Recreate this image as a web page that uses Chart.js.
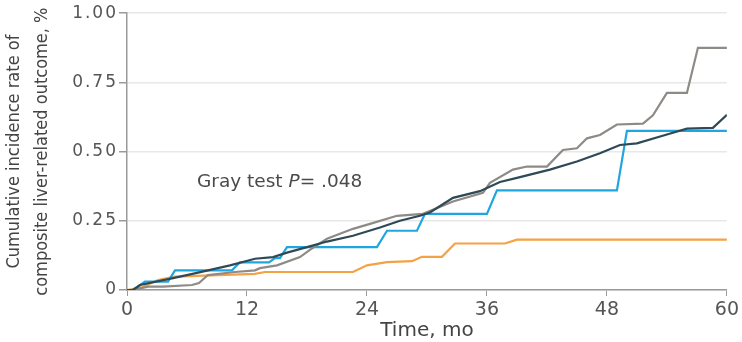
<!DOCTYPE html>
<html>
<head>
<meta charset="utf-8">
<script src="https://cdn.jsdelivr.net/npm/chart.js@4.4.1/dist/chart.umd.min.js"></script>
<style>
  html, body { margin: 0; padding: 0; background: #ffffff; }
  #wrap { width: 742px; height: 342px; }
</style>
</head>
<body>
<div id="wrap"><canvas id="c" width="742" height="342"></canvas></div>
<script>
// Cumulative incidence curves (months, rate)
const grayMonths = [0, 0.6, 2.1, 3.6, 6.5, 7.2, 8.1, 10.8, 12.8, 13.3, 15, 17.3, 18.5, 20, 22.6, 24.3, 27, 29.6, 32.6, 35.6, 36.3, 38.6, 40, 42, 43.6, 45, 46, 47.3, 49, 51.6, 52.6, 54, 56, 57.1, 60];
const grayRates  = [0, 0, 0.012, 0.012, 0.018, 0.025, 0.054, 0.065, 0.071, 0.079, 0.089, 0.119, 0.15, 0.185, 0.221, 0.239, 0.268, 0.275, 0.32, 0.351, 0.387, 0.435, 0.446, 0.446, 0.506, 0.512, 0.548, 0.56, 0.598, 0.601, 0.631, 0.712, 0.712, 0.875, 0.875];

const darkMonths = [0, 0.6, 1.3, 4.6, 7, 10.3, 12.8, 14.6, 16, 18, 20, 22.6, 25.3, 27.3, 29.3, 30.3, 32.6, 35.3, 37.3, 39, 42.3, 45, 47.3, 49.3, 51, 54, 56, 58.6, 60];
const darkRates  = [0, 0, 0.018, 0.043, 0.062, 0.089, 0.113, 0.119, 0.135, 0.155, 0.175, 0.196, 0.226, 0.25, 0.268, 0.28, 0.333, 0.357, 0.39, 0.405, 0.435, 0.464, 0.494, 0.524, 0.53, 0.562, 0.583, 0.586, 0.633];

const blueMonths = [0, 0.6, 1.8, 4.1, 4.8, 10.5, 11.3, 14.2, 14.8, 15.3, 16, 25, 26, 29, 29.8, 36, 37, 49, 50, 60];
const blueRates  = [0, 0, 0.03, 0.03, 0.071, 0.071, 0.10, 0.10, 0.115, 0.115, 0.155, 0.155, 0.214, 0.214, 0.275, 0.275, 0.36, 0.36, 0.575, 0.575];

const orangeMonths = [0, 1.5, 3.1, 4.8, 12.8, 13.8, 22.6, 24, 26, 28.5, 29.5, 31.5, 32.8, 37.8, 39, 60];
const orangeRates  = [0, 0.01, 0.036, 0.048, 0.058, 0.065, 0.065, 0.089, 0.101, 0.104, 0.12, 0.12, 0.168, 0.168, 0.182, 0.182];

const xTicks = [0, 12, 24, 36, 48, 60];
const yTicks = [0, 0.25, 0.5, 0.75, 1.0];

const pairs = (xs, ys) => xs.map((x, i) => ({ x: x, y: ys[i] }));

const sansFamily = '"DejaVu Sans", "Open Sans", sans-serif';

// Annotation text with italic P
const annotation = {
  id: 'annotation',
  afterDatasetsDraw(chart) {
    const { ctx, scales } = chart;
    const x0 = scales.x.getPixelForValue(7.0);
    const y0 = scales.y.getPixelForValue(0.39);
    ctx.save();
    ctx.fillStyle = '#4a4a4a';
    ctx.textBaseline = 'middle';
    ctx.textAlign = 'left';
    const parts = [
      ['Gray test ', 'normal'],
      ['P', 'italic'],
      ['= .048', 'normal']
    ];
    let x = x0;
    for (const [txt, style] of parts) {
      ctx.font = style + ' 18.5px ' + sansFamily;
      ctx.fillText(txt, x, y0);
      x += ctx.measureText(txt).width;
    }
    ctx.restore();
  }
};

const line = (data, color) => ({
  data: data,
  borderColor: color,
  borderWidth: 2.2,
  pointRadius: 0,
  fill: false,
  tension: 0
});

new Chart(document.getElementById('c'), {
  type: 'line',
  data: {
    datasets: [
      line(pairs(darkMonths, darkRates), '#2e4a57'),
      line(pairs(grayMonths, grayRates), '#8e8a86'),
      line(pairs(blueMonths, blueRates), '#20a6df'),
      line(pairs(orangeMonths, orangeRates), '#f4a244')
    ]
  },
  options: {
    responsive: false,
    animation: false,
    layout: { padding: { top: 10, right: 15, left: 0, bottom: 0 } },
    plugins: { legend: { display: false }, tooltip: { enabled: false } },
    scales: {
      x: {
        type: 'linear',
        min: 0, max: 60,
        afterBuildTicks(scale) { scale.ticks = xTicks.map(v => ({ value: v })); },
        afterFit(scale) { scale.height = 52; },
        grid: { drawOnChartArea: false, drawTicks: true, tickLength: 6, tickColor: '#9a9a9a' },
        border: { color: '#9a9a9a', width: 1.5 },
        ticks: { font: { family: sansFamily, size: 19 }, color: '#555555', padding: 3, maxRotation: 0 },
        title: {
          display: true,
          text: 'Time, mo',
          color: '#444444',
          font: { family: sansFamily, size: 20, lineHeight: 1.0 },
          padding: { top: 0, bottom: 1 }
        }
      },
      y: {
        type: 'linear',
        min: 0, max: 1,
        afterBuildTicks(scale) { scale.ticks = yTicks.map(v => ({ value: v })); },
        afterFit(scale) {
          scale.width = 127;
          // wider tracking for the value labels on this axis
          if (!scale._spacedLabels) {
            const base = scale.drawLabels;
            scale.drawLabels = function (area) {
              const ctx = this.ctx;
              const prev = ctx.letterSpacing;
              ctx.letterSpacing = '2px';
              ctx.save();
              ctx.translate(2, 0);
              base.call(this, area);
              ctx.restore();
              ctx.letterSpacing = prev || '0px';
            };
            scale._spacedLabels = true;
          }
        },
        grid: { color: '#e8e8e8', lineWidth: 1.5, drawTicks: true, tickLength: 8, tickColor: '#9a9a9a' },
        border: { color: '#9a9a9a', width: 1.5 },
        ticks: {
          font: { family: sansFamily, size: 17 },
          color: '#555555',
          padding: 3,
          callback: v => (v === 0 ? '0' : v.toFixed(2))
        },
        title: {
          display: true,
          text: ['Cumulative incidence rate of', 'composite liver-related outcome, %'],
          color: '#444444',
          font: { family: '"Liberation Sans Narrow", "DejaVu Sans Condensed", sans-serif', size: 18, lineHeight: 1.55 },
          padding: { top: 0, bottom: 0 }
        }
      }
    }
  },
  plugins: [annotation]
});
</script>
</body>
</html>
